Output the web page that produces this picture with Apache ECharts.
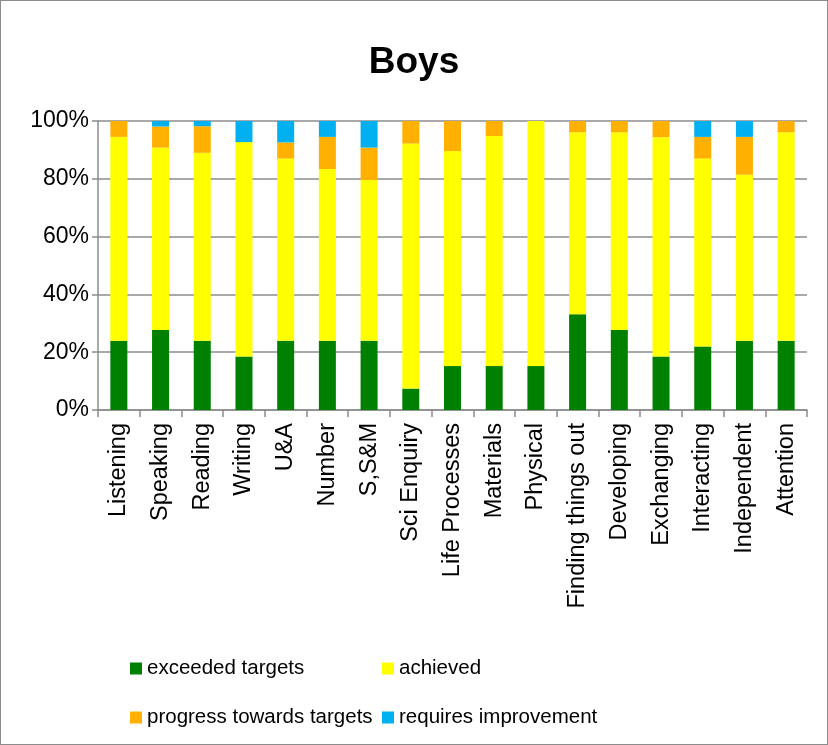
<!DOCTYPE html>
<html>
<head>
<meta charset="utf-8">
<script src="https://cdn.jsdelivr.net/npm/echarts@6/dist/echarts.min.js"></script>
<style>
  html, body { margin: 0; padding: 0; background: #fff; }
  #chart { width: 828px; height: 745px; box-sizing: border-box; border: 1px solid #8c8c8c; }
</style>
</head>
<body>
<div id="chart"></div>
<script>
// categories along the x axis
const categories = ['Listening', 'Speaking', 'Reading', 'Writing', 'U&A', 'Number', 'S,S&M',
  'Sci Enquiry', 'Life Processes', 'Materials', 'Physical', 'Finding things out',
  'Developing', 'Exchanging', 'Interacting', 'Independent', 'Attention']

// percentages
const exceeded = [24, 27.7, 24, 18.5, 24, 24, 24, 7.4, 15.2, 15.2, 15.2, 33.1, 27.7, 18.5, 22, 24, 24]
const achieved = [70.5, 63.1, 65, 74.2, 63, 59.4, 55.6, 84.8, 74.4, 79.6, 84.8, 63, 68.4, 75.9, 65, 57.4, 72.1]
const progress = [5.5, 7.3, 9.2, 0, 5.6, 11.1, 11.2, 7.8, 10.4, 5.2, 0, 3.9, 3.9, 5.6, 7.5, 13.1, 3.9]
const improve = [0, 1.9, 1.8, 7.3, 7.4, 5.5, 9.2, 0, 0, 0, 0, 0, 0, 0, 5.5, 5.5, 0]

const yTicks = [0, 20, 40, 60, 80, 100]

const seriesNames = ['exceeded targets', 'achieved', 'progress towards targets', 'requires improvement']
const colors = ['#008000', '#ffff00', '#ffb000', '#00b0f0']

const font = 'Liberation Sans, Arial, sans-serif'
const myChart = echarts.init(document.getElementById('chart'))

const legendStyle = (name, left, top) => ({
  data: [name],
  left: left,
  top: top,
  itemWidth: 12,
  itemHeight: 12,
  icon: 'rect',
  itemGap: 6,
  textStyle: { fontFamily: font, fontSize: 20.5, color: '#000' }
})

myChart.setOption({
  animation: false,
  color: colors,
  title: {
    text: 'Boys',
    left: 'center',
    top: 38,
    textStyle: { fontFamily: font, fontSize: 37, fontWeight: 'bold', color: '#000' }
  },
  legend: [
    legendStyle(seriesNames[0], 124, 652),
    legendStyle(seriesNames[1], 376, 652),
    legendStyle(seriesNames[2], 124, 701),
    legendStyle(seriesNames[3], 376, 701)
  ],
  grid: { left: 97, right: 20, top: 120, bottom: 334, containLabel: false },
  xAxis: {
    type: 'category',
    data: categories,
    axisLine: { lineStyle: { color: '#8c8c8c', width: 1.5 } },
    axisTick: { show: true, length: 7, lineStyle: { color: '#8c8c8c', width: 1.5 } },
    axisLabel: { rotate: 90, margin: 13, fontFamily: font, fontSize: 23.5, color: '#000', interval: 0 }
  },
  yAxis: {
    type: 'value',
    min: 0,
    max: 100,
    interval: 20,
    axisLine: { show: true, lineStyle: { color: '#8c8c8c', width: 1.5 } },
    axisTick: { show: true, length: 6, lineStyle: { color: '#8c8c8c', width: 1.5 } },
    splitLine: { lineStyle: { color: '#8c8c8c', width: 1.5 } },
    axisLabel: {
      margin: 9,
      fontFamily: font,
      fontSize: 23,
      color: '#000',
      formatter: v => (yTicks.includes(v) ? v + '%' : '')
    }
  },
  series: [exceeded, achieved, progress, improve].map((d, i) => ({
    name: seriesNames[i],
    type: 'bar',
    stack: 'all',
    barWidth: 17,
    data: d
  }))
})
</script>
</body>
</html>
